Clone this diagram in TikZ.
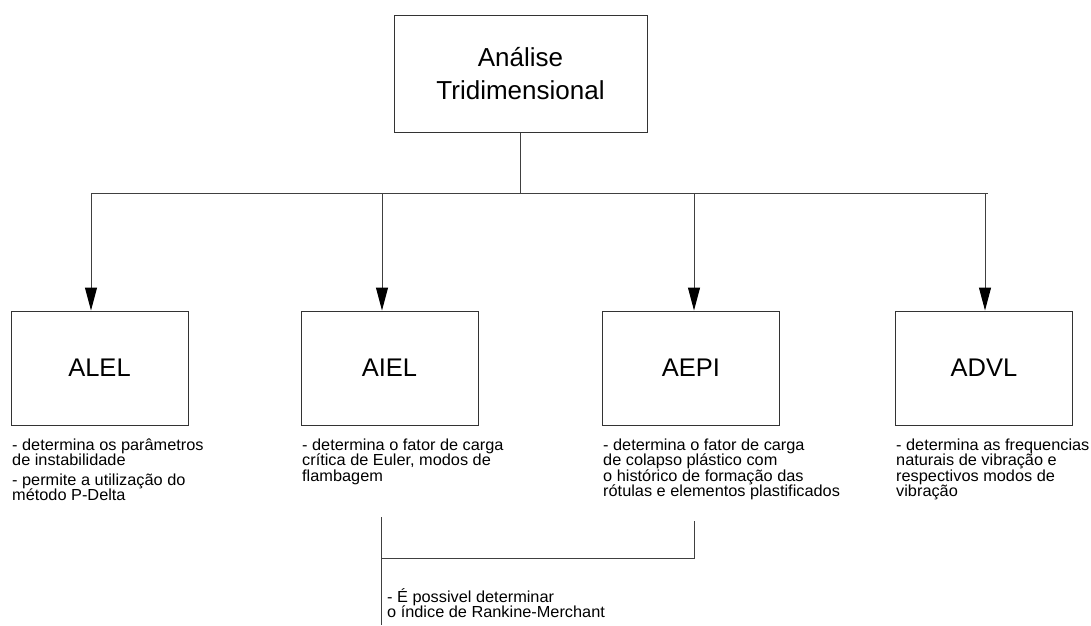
\documentclass[tikz,border=0pt]{standalone}
\usepackage{fontspec}
\setmainfont{Liberation Sans}
\newfontfamily\notefont[FakeStretch=1.02]{Liberation Sans}
\usetikzlibrary{arrows.meta}
\newcommand{\firstline}{\rule{0pt}{14pt}}
\tikzset{x=1pt, y=-1pt,
  box/.style={draw=black!80, line width=1pt, minimum width=177pt, minimum height=114pt,
    font=\fontsize{25.5}{30}\selectfont},
  note/.style={anchor=north west, inner sep=0pt, align=left,
    font=\notefont\fontsize{16}{15.5}\selectfont},
  link/.style={draw=black!75, line width=1pt},
  arr/.style={link, -{Triangle[length=23pt, width=12pt, color=black]}}}

\begin{document}
\begin{tikzpicture}
  \useasboundingbox (0,0) rectangle (1091,625);
  \node (top) [box, minimum width=253pt, minimum height=117pt, align=center,
    font=\fontsize{26}{33}\selectfont] at (520.5,73.5) {Análise\\Tridimensional};
  \node (alel) [box] at (99.5,368) {ALEL};
  \node (aiel) [box] at (389.5,368) {AIEL};
  \node (aepi) [box] at (691,368) {AEPI};
  \node (advl) [box] at (984,368) {ADVL};

  \node (alelnote) [note] at (12,436) {\firstline- determina os parâmetros\\de instabilidade\\[4pt]
    - permite a utilização do\\método P-Delta};
  \node (aielnote) [note] at (302,436) {\firstline- determina o fator de carga\\crítica de Euler, modos de\\flambagem};
  \node (aepinote) [note] at (603,436) {\firstline- determina o fator de carga\\de colapso plástico com\\o histórico de formação das\\rótulas e elementos plastificados};
  \node (advlnote) [note] at (896,436) {\firstline- determina as frequencias\\naturais de vibração e\\respectivos modos de\\vibração};

  \coordinate (t1) at (91,193);
  \coordinate (t2) at (382,193);
  \coordinate (t3) at (694,193);
  \coordinate (t4) at (988,193);
  \draw [link] (top.south) -- (top.south |- t1);
  \draw [link] (t1) -- (t4);
  \draw [arr] (t1) -- (t1 |- alel.north);
  \draw [arr] (t2) -- (t2 |- aiel.north);
  \draw [arr] (t3) -- (t3 |- aepi.north);
  \draw [arr] (985,193) -- (985,0 |- advl.north);

  \coordinate (jl) at (381,517);
  \coordinate (jr) at (694,521);
  \coordinate (jm) at (381,558);
  \coordinate (jb) at (381,625);
  \draw [link] (jl) -- (jb);
  \draw [link] (jm) -- (jm -| jr) -- (jr);
  \node (rknote) [note] at (387,588) {\firstline- É possivel determinar\\o índice de Rankine-Merchant};
\end{tikzpicture}
\end{document}
